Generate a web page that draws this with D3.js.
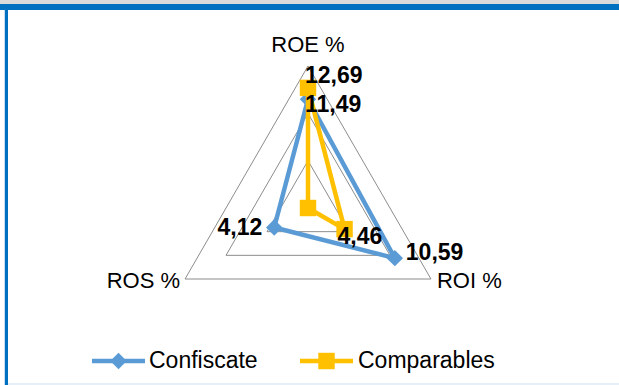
<!DOCTYPE html>
<html>
<head>
<meta charset="utf-8">
<script src="https://cdn.jsdelivr.net/npm/d3@7"></script>
<style>
    html, body { margin: 0; padding: 0; background: #fff; }
    svg { display: block; }
    text { font-family: "Liberation Sans", Arial, sans-serif; fill: #000; }
</style>
</head>
<body>
<svg id="chart" width="619" height="385"></svg>
<script>
"use strict";

// categories in clockwise order, starting at the top
var categories = ['ROE %', 'ROI %', 'ROS %'];

var seriesNames = ['Confiscate', 'Comparables'];
var confiscate = [11.49, 10.59, 4.12];
var comparables = [12.69, 4.46, 0];

// data labels as shown (the ROS point of Comparables carries none)
var confiscateLabels = ['11,49', '10,59', '4,12'];
var comparablesLabels = ['12,69', '4,46', null];

var gridTicks = [5, 10, 15];

var colors = ['#5b9bd5', '#ffc000'];

var svg = d3.select('#chart');
var width = 619, height = 385;

var center = {x: 308, y: 208};
var r = d3.scaleLinear().domain([0, 15]).range([0, 142]);
var angle = d3.scalePoint().domain(categories).range([0, 2 * Math.PI * 2 / 3]);

function pos(cat, value) {
    var a = angle(cat);
    return [center.x + r(value) * Math.sin(a), center.y - r(value) * Math.cos(a)];
}

// frame pieces of the surrounding document
svg.append('rect').attr('x', 0).attr('y', 0).attr('width', width).attr('height', 4).attr('fill', '#dadada');
svg.append('rect').attr('x', 0).attr('y', 4).attr('width', width).attr('height', 6).attr('fill', '#0070c0');
svg.append('rect').attr('x', 4).attr('y', 10).attr('width', 1).attr('height', height - 10).attr('fill', '#c9def0');
svg.append('rect').attr('x', 5).attr('y', 4).attr('width', 3).attr('height', height - 4).attr('fill', '#0070c0');
svg.append('rect').attr('x', 8).attr('y', height - 2).attr('width', width - 8).attr('height', 2).attr('fill', '#e6eff8');

var radarLine = d3.line().curve(d3.curveLinearClosed);

// grid triangles
svg.append('g')
    .attr('class', 'grid')
    .selectAll('path')
    .data(gridTicks)
    .join('path')
    .attr('d', function(t) {
        return radarLine(categories.map(function(c) { return pos(c, t); }));
    })
    .attr('fill', 'none')
    .attr('stroke', '#8c8c8c')
    .attr('stroke-width', 1);

// category labels
var catOffsets = {
    'ROE %': {dx: 0, dy: -14, anchor: 'middle'},
    'ROI %': {dx: 6, dy: 9, anchor: 'start'},
    'ROS %': {dx: -5, dy: 9, anchor: 'end'}
};
svg.append('g')
    .selectAll('text')
    .data(categories)
    .join('text')
    .attr('x', function(c) { return pos(c, 15)[0] + catOffsets[c].dx; })
    .attr('y', function(c) { return pos(c, 15)[1] + catOffsets[c].dy; })
    .attr('text-anchor', function(c) { return catOffsets[c].anchor; })
    .attr('font-size', 22)
    .text(function(c) { return c; });

// diamond = square turned by 45 degrees
var series = [
    {name: seriesNames[0], values: confiscate, labels: confiscateLabels, color: colors[0], rotate: 45, size: 135},
    {name: seriesNames[1], values: comparables, labels: comparablesLabels, color: colors[1], rotate: 0, size: 270}
];

function markerTransform(s, x, y) {
    return 'translate(' + x + ',' + y + ') rotate(' + s.rotate + ')';
}

series.forEach(function(s) {
    var pts = categories.map(function(c, i) { return pos(c, s.values[i]); });
    var g = svg.append('g').attr('class', 'series');

    g.append('path')
        .attr('d', radarLine(pts))
        .attr('fill', 'none')
        .attr('stroke', s.color)
        .attr('stroke-width', 4.5)
        .attr('stroke-linejoin', 'round');

    g.selectAll('path.marker')
        .data(pts)
        .join('path')
        .attr('class', 'marker')
        .attr('transform', function(p) { return markerTransform(s, p[0], p[1]); })
        .attr('d', d3.symbol().type(d3.symbolSquare).size(s.size))
        .attr('fill', s.color);
});

// data labels, offset from their points
var labelOffsets = [
    [{dx: -3, dy: 13, anchor: 'start'}, {dx: 11, dy: 2, anchor: 'start'}, {dx: -12, dy: 7, anchor: 'end'}],
    [{dx: -3, dy: -5, anchor: 'start'}, {dx: -7, dy: 15, anchor: 'start'}, null]
];
series.forEach(function(s, si) {
    categories.forEach(function(c, i) {
        if (!s.labels[i]) {
            return;
        }
        var p = pos(c, s.values[i]);
        var o = labelOffsets[si][i];
        svg.append('text')
            .attr('x', p[0] + o.dx)
            .attr('y', p[1] + o.dy)
            .attr('text-anchor', o.anchor)
            .attr('font-size', 23)
            .attr('font-weight', 'bold')
            .text(s.labels[i]);
    });
});

// legend
var legendItems = [{x: 92, textX: 149}, {x: 300, textX: 358}];
var legend = svg.append('g').attr('class', 'legend');
series.forEach(function(s, i) {
    var item = legend.append('g');
    var y = 361;
    item.append('line')
        .attr('x1', legendItems[i].x)
        .attr('x2', legendItems[i].x + 53)
        .attr('y1', y)
        .attr('y2', y)
        .attr('stroke', s.color)
        .attr('stroke-width', 4.5);
    item.append('path')
        .attr('transform', markerTransform(s, legendItems[i].x + 26.5, y))
        .attr('d', d3.symbol().type(d3.symbolSquare).size(s.size))
        .attr('fill', s.color);
    item.append('text')
        .attr('x', legendItems[i].textX)
        .attr('y', y + 7)
        .attr('font-size', 23)
        .text(s.name);
});
</script>
</body>
</html>
